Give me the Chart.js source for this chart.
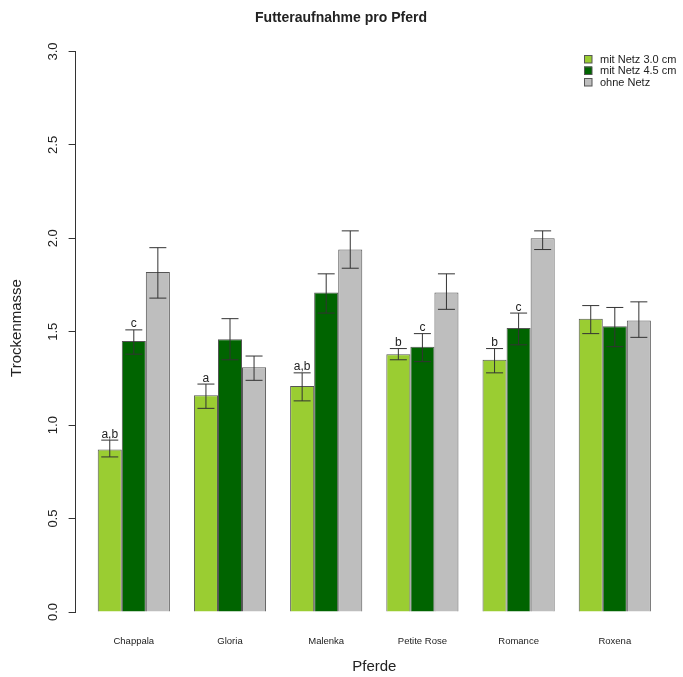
<!DOCTYPE html>
<html>
<head>
<meta charset="utf-8">
<script src="https://cdn.jsdelivr.net/npm/chart.js@4/dist/chart.umd.min.js"></script>
<style>
  html, body { margin: 0; padding: 0; background: #fff; }
  canvas { display: block; }
</style>
</head>
<body>
<canvas id="chart" width="683" height="677"></canvas>
<script>
// Futteraufnahme (Trockenmasse) je Pferd, drei Varianten
const horses = ['Chappala', 'Gloria', 'Malenka', 'Petite Rose', 'Romance', 'Roxena'];

const net30   = [0.87, 1.16, 1.21, 1.38, 1.35, 1.57];
const net30Lo = [0.83, 1.09, 1.13, 1.35, 1.28, 1.49];
const net30Hi = [0.92, 1.22, 1.28, 1.41, 1.41, 1.64];

const net45   = [1.45, 1.46, 1.71, 1.42, 1.52, 1.53];
const net45Lo = [1.38, 1.35, 1.60, 1.34, 1.43, 1.42];
const net45Hi = [1.51, 1.57, 1.81, 1.49, 1.60, 1.63];

const noNet   = [1.82, 1.31, 1.94, 1.71, 2.00, 1.56];
const noNetLo = [1.68, 1.24, 1.84, 1.62, 1.94, 1.47];
const noNetHi = [1.95, 1.37, 2.04, 1.81, 2.04, 1.66];

// Signifikanz-Buchstaben
const letters30 = ['a,b', 'a', 'a,b', 'b', 'b', ''];
const letters45 = ['c', '', '', 'c', 'c', ''];
const lettersNo = ['', '', '', '', '', ''];

const seriesNames = ['mit Netz 3.0 cm', 'mit Netz 4.5 cm', 'ohne Netz'];
const seriesColors = ['#9acd32', '#006400', '#bebebe'];

const yTicks = [0, 0.5, 1, 1.5, 2, 2.5, 3];

const FONT = '"Liberation Sans", Arial, sans-serif';
const TEXT = '#222';

function points(values) {
    return values.map((v, i) => ({ x: i + 1, y: v }));
}

const errors = [
    { lo: net30Lo, hi: net30Hi, letters: letters30 },
    { lo: net45Lo, hi: net45Hi, letters: letters45 },
    { lo: noNetLo, hi: noNetHi, letters: lettersNo }
];

// Fehlerbalken + Buchstaben
const errorBars = {
    id: 'errorBars',
    afterDatasetsDraw(chart) {
        const ctx = chart.ctx;
        const y = chart.scales.y;
        ctx.save();
        ctx.strokeStyle = '#333';
        ctx.lineWidth = 1;
        chart.data.datasets.forEach((ds, di) => {
            const meta = chart.getDatasetMeta(di);
            const err = errors[di];
            meta.data.forEach((bar, i) => {
                const x = bar.x;
                const yLo = y.getPixelForValue(err.lo[i]);
                const yHi = y.getPixelForValue(err.hi[i]);
                const half = 8.5;
                ctx.beginPath();
                ctx.moveTo(x, yLo); ctx.lineTo(x, yHi);
                ctx.moveTo(x - half, yLo); ctx.lineTo(x + half, yLo);
                ctx.moveTo(x - half, yHi); ctx.lineTo(x + half, yHi);
                ctx.stroke();
                if (err.letters[i]) {
                    ctx.fillStyle = TEXT;
                    ctx.font = '12px ' + FONT;
                    ctx.textAlign = 'center';
                    ctx.textBaseline = 'alphabetic';
                    ctx.fillText(err.letters[i], x, yHi - 2.5);
                }
            });
        });
        ctx.restore();
    }
};

// Titel, Achsentitel, Legende
const decorations = {
    id: 'decorations',
    afterDraw(chart) {
        const ctx = chart.ctx;
        const area = chart.chartArea;
        ctx.save();
        ctx.fillStyle = TEXT;
        ctx.textBaseline = 'middle';
        ctx.textAlign = 'center';

        ctx.font = 'bold 14px ' + FONT;
        ctx.fillText('Futteraufnahme pro Pferd', 341, 18);

        ctx.font = '15px ' + FONT;
        ctx.fillText('Pferde', (area.left + area.right) / 2, 667);

        ctx.save();
        ctx.translate(17, 328);
        ctx.rotate(-Math.PI / 2);
        ctx.fillText('Trockenmasse', 0, 0);
        ctx.restore();

        // Legende
        ctx.font = '11px ' + FONT;
        ctx.textAlign = 'left';
        seriesNames.forEach((name, i) => {
            const cy = 59 + i * 11.5;
            ctx.fillStyle = seriesColors[i];
            ctx.fillRect(584, cy - 4, 8, 8);
            ctx.strokeStyle = '#555';
            ctx.lineWidth = 1;
            ctx.strokeRect(584.5, cy - 3.5, 7.5, 7.5);
            ctx.fillStyle = TEXT;
            ctx.fillText(name, 600, cy + 0.5);
        });
        ctx.restore();
    }
};

const datasets = [net30, net45, noNet].map((values, i) => ({
    label: seriesNames[i],
    data: points(values),
    backgroundColor: seriesColors[i],
    borderColor: '#555',
    borderWidth: 1,
    categoryPercentage: 0.75,
    barPercentage: 1.0
}));

new Chart(document.getElementById('chart'), {
    type: 'bar',
    data: { datasets: datasets },
    options: {
        responsive: false,
        animation: false,
        layout: { padding: { top: 51.5, right: 10, left: 0, bottom: 0 } },
        plugins: {
            legend: { display: false },
            title: { display: false },
            tooltip: { enabled: false }
        },
        scales: {
            x: {
                type: 'linear',
                offset: false,
                min: 0.395,
                max: 6.605,
                afterBuildTicks: (scale) => {
                    scale.ticks = horses.map((h, i) => ({ value: i + 1 }));
                },
                afterFit: (scale) => { scale.height = 65; },
                grid: { display: false, drawTicks: false, offset: false },
                border: { display: false },
                ticks: {
                    padding: 24,
                    color: TEXT,
                    font: { family: FONT, size: 9.5 },
                    maxRotation: 0,
                    autoSkip: false,
                    callback: (v) => horses[v - 1] || ''
                }
            },
            y: {
                min: 0,
                max: 3,
                afterBuildTicks: (scale) => {
                    scale.ticks = yTicks.map(v => ({ value: v }));
                },
                afterFit: (scale) => { scale.width = 75.6; },
                grid: {
                    drawOnChartArea: false,
                    drawTicks: true,
                    tickLength: 7,
                    color: '#333'
                },
                border: { display: true, color: '#333' },
                ticks: {
                    minRotation: 90,
                    maxRotation: 90,
                    crossAlign: 'center',
                    padding: 6,
                    color: TEXT,
                    font: { family: FONT, size: 13 },
                    callback: (v) => v.toFixed(1)
                }
            }
        }
    },
    plugins: [errorBars, decorations]
});
</script>
</body>
</html>
